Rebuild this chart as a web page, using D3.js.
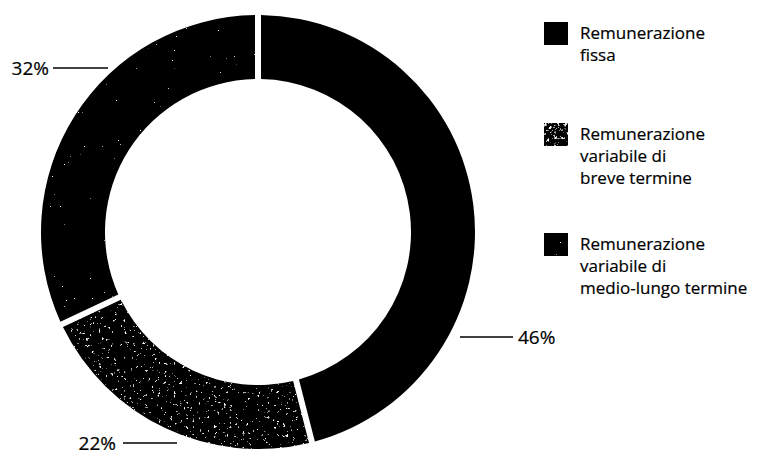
<!DOCTYPE html>
<html>
<head>
<meta charset="utf-8">
<script src="https://cdn.jsdelivr.net/npm/d3@7"></script>
<style>
  html, body { margin: 0; padding: 0; background: #fff; }
  svg { display: block; font-family: "Open Sans", "Noto Sans", sans-serif; }
  text { stroke: #000; stroke-width: 0.2px; }
</style>
</head>
<body>
<svg id="chart" width="759" height="454"></svg>
<script>
// Composition of remuneration (percent of total)
const categories = ["fissa", "breve", "medio"];
const values = [46, 22, 32];
const valueLabels = ["46%", "22%", "32%"];
const legendLines = [
  ["Remunerazione", "fissa"],
  ["Remunerazione", "variabile di", "breve termine"],
  ["Remunerazione", "variabile di", "medio-lungo termine"]
];

const svg = d3.select("#chart");
const defs = svg.append("defs");

// Grainy white speckle over a dark fill
function speckle(id, freq, octaves, slope, offset, seed) {
  const f = defs.append("filter").attr("id", id)
    .attr("x", 0).attr("y", 0).attr("width", 1).attr("height", 1);
  f.append("feTurbulence").attr("type", "fractalNoise")
    .attr("baseFrequency", freq).attr("numOctaves", octaves).attr("seed", seed).attr("result", "noise");
  f.append("feColorMatrix").attr("in", "noise").attr("type", "matrix")
    .attr("values", `0 0 0 0 1  0 0 0 0 1  0 0 0 0 1  ${slope} 0 0 0 ${offset}`)
    .attr("result", "dots");
  f.append("feComposite").attr("in", "dots").attr("in2", "SourceGraphic")
    .attr("operator", "in").attr("result", "clipped");
  const m = f.append("feMerge");
  m.append("feMergeNode").attr("in", "SourceGraphic");
  m.append("feMergeNode").attr("in", "clipped");
}
speckle("grainBreve", 0.32, 3, 10, -6.9, 4);
speckle("grainMedio", 0.5, 2, 30, -23.5, 7);
speckle("grainLegend", 0.3, 3, 6, -3.4, 2);

const color = d3.scaleOrdinal().domain(categories).range(["#000", "#050505", "#020202"]);
const grain = { fissa: null, breve: "url(#grainBreve)", medio: "url(#grainMedio)" };

const cx = 258, cy = 232, rOuter = 217, rInner = 153, gap = 6;

const pie = d3.pie().sort(null).value(d => d.value);
const arcs = pie(categories.map((c, i) => ({ key: c, value: values[i], label: valueLabels[i] })));

const arc = d3.arc()
  .innerRadius(rInner)
  .outerRadius(rOuter)
  .padAngle(gap / rOuter)
  .padRadius(rOuter);

const g = svg.append("g").attr("transform", `translate(${cx},${cy})`);
g.selectAll("path.slice")
  .data(arcs)
  .join("path")
  .attr("class", "slice")
  .attr("d", arc)
  .attr("fill", d => color(d.data.key))
  .attr("filter", d => grain[d.data.key]);

// Value callouts: a short leader line beside each percentage
const callout = {
  fissa: { y: 337, x1: 460, x2: 513, tx: 518, anchor: "start" },
  breve: { y: 443, x1: 123, x2: 177, tx: 116, anchor: "end" },
  medio: { y: 68,  x1: 53,  x2: 108, tx: 49,  anchor: "end" }
};
const labels = svg.append("g");
arcs.forEach(d => {
  const c = callout[d.data.key];
  labels.append("line")
    .attr("x1", c.x1).attr("x2", c.x2).attr("y1", c.y).attr("y2", c.y)
    .attr("stroke", "#000").attr("stroke-width", 1.4);
  labels.append("text")
    .attr("x", c.tx).attr("y", c.y + 6.5)
    .attr("text-anchor", c.anchor)
    .attr("font-size", 19)
    .attr("fill", "#000")
    .text(d.data.label);
});

// Legend
const legendTop = [22, 123, 233];
const legendSwatch = { fissa: null, breve: "url(#grainLegend)", medio: "url(#grainMedio)" };
const legend = svg.append("g");
categories.forEach((c, i) => {
  const y0 = legendTop[i];
  legend.append("rect")
    .attr("x", 544).attr("y", y0).attr("width", 24).attr("height", 23)
    .attr("fill", color(c))
    .attr("filter", legendSwatch[c]);
  const t = legend.append("text")
    .attr("x", 580).attr("y", y0 + 17)
    .attr("font-size", 17).attr("fill", "#000");
  legendLines[i].forEach((line, j) => {
    t.append("tspan").attr("x", 580).attr("dy", j === 0 ? 0 : 22).text(line);
  });
});
</script>
</body>
</html>
